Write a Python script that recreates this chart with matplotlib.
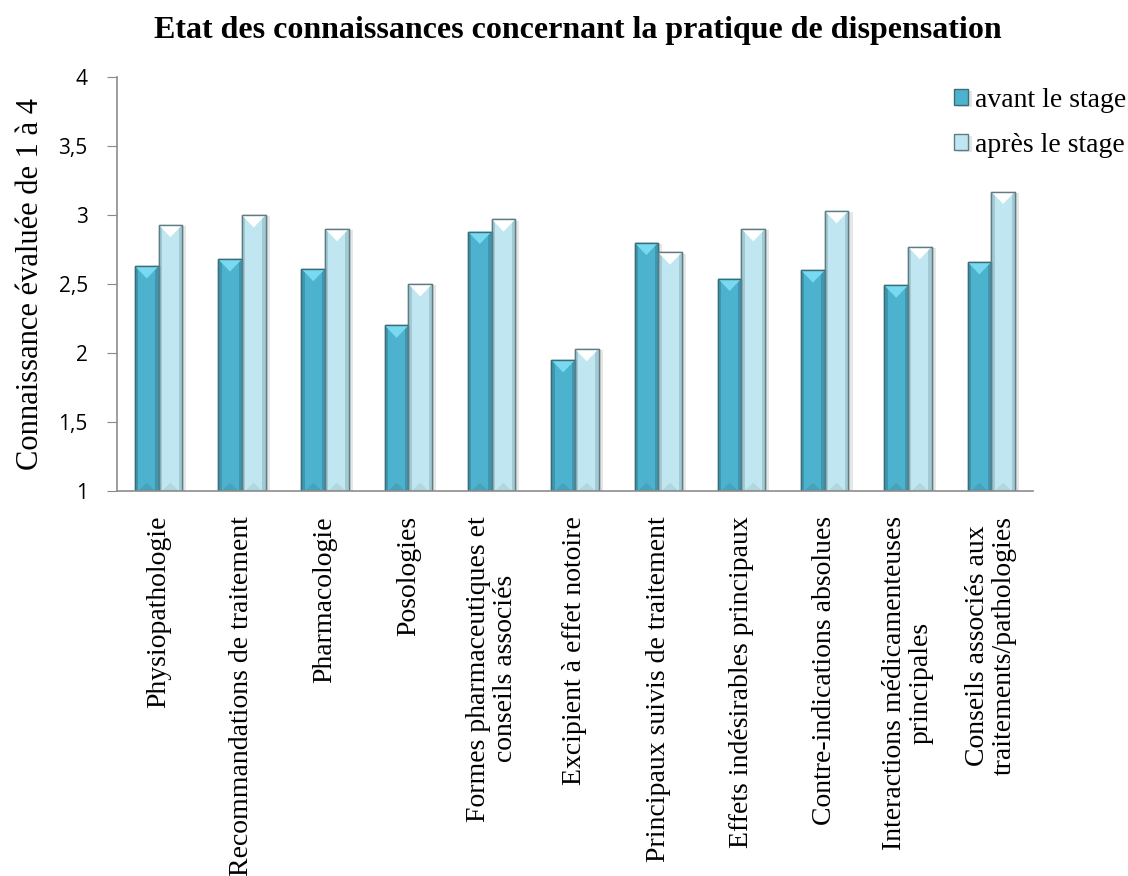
import matplotlib.pyplot as plt
import matplotlib.patheffects as pe
import numpy as np

# données
categories = [
    "Physiopathologie",
    "Recommandations de traitement",
    "Pharmacologie",
    "Posologies",
    "Formes pharmaceutiques et\nconseils associés",
    "Excipient à effet notoire",
    "Principaux suivis de traitement",
    "Effets indésirables principaux",
    "Contre-indications absolues",
    "Interactions médicamenteuses\nprincipales",
    "Conseils associés aux\ntraitements/pathologies",
]
avant = [2.63, 2.68, 2.61, 2.20, 2.88, 1.95, 2.80, 2.54, 2.60, 2.49, 2.66]
apres = [2.93, 3.00, 2.90, 2.50, 2.97, 2.03, 2.73, 2.90, 3.03, 2.77, 3.17]
yticks = [1, 1.5, 2, 2.5, 3, 3.5, 4]
ytick_labels = ["1", "1,5", "2", "2,5", "3", "3,5", "4"]

serif = ["Liberation Serif", "DejaVu Serif"]

fig = plt.figure(figsize=(11.28, 8.76), dpi=100)
ax = fig.add_axes([0.1037, 0.4395, 0.812, 0.4725])

x = np.arange(len(categories))
w = 0.284
shadow = [pe.SimplePatchShadow(offset=(3, -1), alpha=0.18, shadow_rgbFace="#777777"), pe.Normal()]
b1 = ax.bar(x - w / 2, np.array(avant) - 1, w, bottom=1, color="#4db2cd",
            edgecolor="#3b6d79", linewidth=1.0, label="avant le stage", zorder=3,
            path_effects=shadow)
b2 = ax.bar(x + w / 2, np.array(apres) - 1, w, bottom=1, color="#c0e7f1",
            edgecolor="#5d7c84", linewidth=1.0, label="après le stage", zorder=3,
            path_effects=shadow)

# effet de biseau : bords plus sombres, pointe claire en haut
for bars, side, tip, foot in ((b1, "#3e97ae", "#78d9f1", "#46a3bb"),
                              (b2, "#a3cad3", "#ffffff", "#b0d6df")):
    for r in bars:
        x0, y0, bw, h = r.get_x(), r.get_y(), r.get_width(), r.get_height()
        top = y0 + h
        s = bw * 0.14
        ax.fill([x0, x0 + s, x0 + s, x0], [y0, y0, top, top], color=side, lw=0, zorder=4)
        ax.fill([x0 + bw - s, x0 + bw, x0 + bw, x0 + bw - s], [y0, y0, top, top],
                color=side, lw=0, zorder=4)
        ax.fill([x0, x0 + bw, x0 + bw / 2], [top, top, top - 0.09], color=tip,
                lw=0, zorder=5)
        ax.fill([x0 + s, x0 + bw - s, x0 + bw / 2], [y0, y0, y0 + 0.06], color=foot,
                lw=0, zorder=5)
        ax.add_patch(plt.Rectangle((x0, y0), bw, h, fill=False, ec=r.get_edgecolor(),
                                   lw=1.0, zorder=6))

ax.set_xlim(-0.5, len(categories) - 0.5)
ax.set_ylim(1, 4)
ax.set_yticks(yticks)
ax.set_yticklabels(ytick_labels, fontsize=15, family=["Open Sans", "DejaVu Sans"])
ax.set_xticks(x)
ax.set_xticklabels(categories, rotation=90, fontsize=20, family=serif,
                   va="top", ha="center", multialignment="center", linespacing=1.1)
ax.tick_params(axis="x", length=0, pad=18)
ax.tick_params(axis="y", length=7, color="#888888", direction="out", pad=14)

for s in ("top", "right"):
    ax.spines[s].set_visible(False)
for s in ("left", "bottom"):
    ax.spines[s].set_color("#8c8c8c")
    ax.spines[s].set_linewidth(1.2)
ax.spines["bottom"].set_zorder(7)

ax.set_ylabel("Connaissance évaluée de 1 à 4", fontsize=22, family=serif, labelpad=10)
fig.text(0.512, 0.965, "Etat des connaissances concernant la pratique de dispensation",
         fontsize=23, fontweight="bold", family=serif, ha="center", va="center")

fig.legend(loc="upper left", bbox_to_anchor=(943 / 1128, 1 - 77 / 876), frameon=False,
           prop={"family": serif, "size": 20}, handlelength=0.5,
           handleheight=0.5, handletextpad=0.25, labelspacing=0.72,
           borderaxespad=0)

fig.savefig("out.png", dpi=100, facecolor="white")
